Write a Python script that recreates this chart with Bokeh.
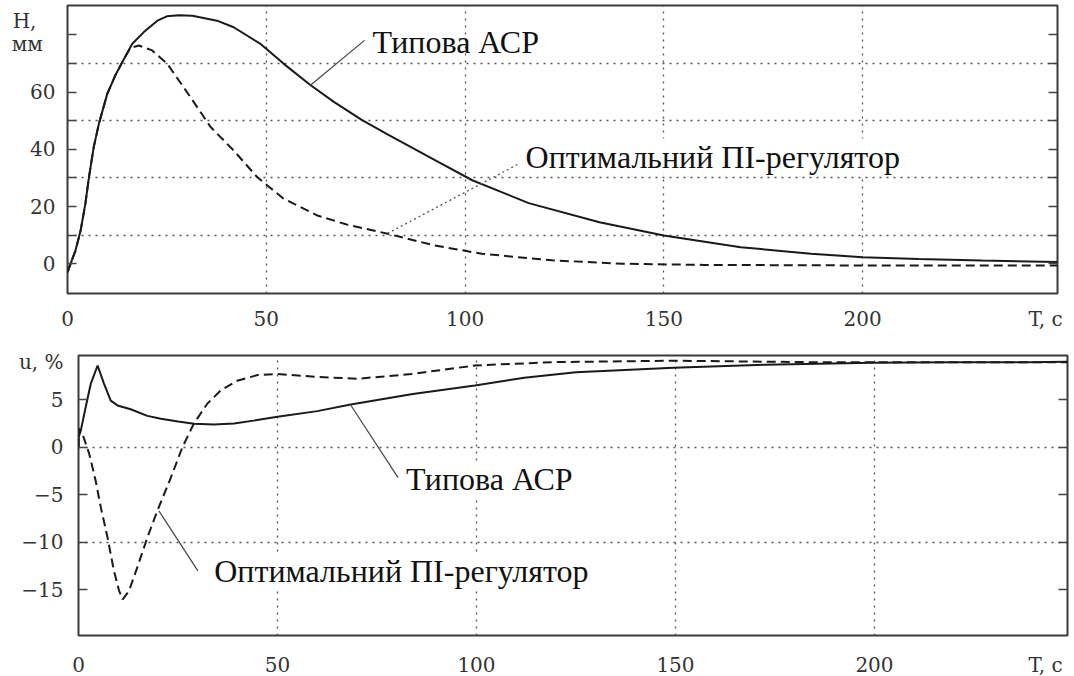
from bokeh.plotting import figure
from bokeh.models import Range1d, FixedTicker, LinearAxis, Label
from bokeh.layouts import column
from bokeh.embed import file_html
from bokeh.resources import INLINE

# ---------------- data: level H, mm ----------------
t_h_typ = [0, 2, 3.3, 4.5, 5.4, 6.6, 7.9, 10, 12, 14, 16.3, 19.2, 22.6, 25, 28, 31.4,
           37.6, 41.8, 48.5, 54.4, 61, 67, 74, 80.5, 92.3, 101.8, 116, 133.8, 150,
           169.3, 187, 200, 214, 230, 249]
h_typ = [-2.9, 4.6, 11.6, 21, 30.3, 40.8, 49, 59.4, 65.8, 71.1, 76.9, 81, 85, 86.5, 86.9, 86.7,
         85, 82.7, 76.9, 69.9, 62.6, 56.6, 50.3, 45.2, 36.3, 29.2, 21.2, 14.5, 9.9,
         5.8, 3.5, 2.3, 1.7, 1.1, 0.6]

t_h_opt = [0, 2, 3.3, 4.5, 5.4, 6.6, 7.9, 10, 12, 14, 15.8, 18, 21.3, 25.1, 30.9, 36, 41.8,
           47.7, 54.4, 62.8, 70, 80.5, 92.3, 104.2, 121.9, 139.7, 160, 200, 249]
h_opt = [-2.9, 4.6, 11.6, 21, 30.3, 40.8, 49, 59.4, 65.8, 71.1, 75.5, 76.3, 74.6, 69.9, 58.3, 47.8, 39.6,
         30.3, 22.7, 16.9, 13.8, 10.5, 6.4, 3.5, 1.2, 0, -0.4, -0.6, -0.6]

# ---------------- data: control u, % ----------------
t_u_typ = [0, 0.01, 0.6, 1.8, 3.1, 4.8, 6.4, 8.1, 9.8, 13.1, 17.3, 20.7, 25, 29, 34, 39.1,
           44, 50, 60, 68.4, 84, 99.6, 112, 125, 149.5, 172.3, 199.5, 220, 238.5, 248.5]
u_typ = [0, 1.0, 1.8, 4.2, 6.7, 8.6, 6.7, 4.9, 4.4, 4.0, 3.3, 3.0, 2.7, 2.46, 2.4, 2.5,
         2.8, 3.2, 3.8, 4.5, 5.6, 6.5, 7.3, 7.9, 8.36, 8.67, 8.88, 8.93, 8.95, 9.0]

t_u_opt = [0, 0.01, 1, 2.7, 4.3, 5.6, 7.3, 8.9, 10.2, 11.1, 12.7, 14.8, 17.3, 19.8, 23.2, 26.1,
           29, 32.4, 35.8, 39.9, 45, 50, 60, 70, 83.6, 99.6, 119.1, 149.5, 184, 220, 248.5]
u_opt = [0, 2.0, 1.4, -0.7, -3.5, -6.3, -9.5, -13, -15.1, -16, -15.1, -12.6, -9.5, -6.7, -3.2, 0,
         2.5, 4.6, 6.0, 7.0, 7.6, 7.7, 7.4, 7.2, 7.7, 8.6, 8.95, 9.1, 8.95, 8.95, 8.95]

# ---------------- ticks / axis texts ----------------
h_mark_ticks = [0, 10, 20, 30, 40, 50, 60, 70, 80]
h_label_ticks = [0, 20, 40, 60]
h_grid = [10, 30, 50, 70]
u_mark_ticks = [-20, -15, -10, -5, 0, 5]
u_label_ticks = [-20, -15, -10, -5, 0, 5]
u_grid = [-10, 0]
t_ticks = [0, 50, 100, 150, 200]
t_grid = [50, 100, 150, 200]

H_NAME = "H,"
H_UNIT = "мм"
U_NAME = "u, %"
T_NAME = "T, c"

NAME_TYP = "Типова АСР"
NAME_OPT = "Оптимальний ПІ-регулятор"

SERIF = "Liberation Serif"
TICK_FONT = "DejaVu Serif"
LINE_C = "#1a1a1a"
NBSP = "\u00a0"


def style(p, mark_ticks, label_ticks, label_extra, ygrid, xticks, xlabel_extra, x_standoff, y_standoff):
    p.outline_line_color = "#3a3a3a"
    p.outline_line_width = 2
    p.background_fill_color = "white"
    p.border_fill_color = "white"
    for ax in p.xaxis:
        ax.ticker = FixedTicker(ticks=xticks + list(xlabel_extra.keys()))
        ax.major_label_overrides = dict(xlabel_extra)
        ax.axis_line_color = None
        ax.major_tick_in = 0
        ax.major_tick_out = 0
        ax.minor_tick_line_color = None
        ax.major_label_text_font = TICK_FONT
        ax.major_label_text_font_size = "20px"
        ax.major_label_text_color = "#333333"
        ax.major_label_standoff = x_standoff
    # default y axis: inward tick marks only
    for ax in p.yaxis:
        ax.ticker = FixedTicker(ticks=mark_ticks)
        ax.major_label_overrides = {v: "" for v in mark_ticks}
        ax.major_label_text_font_size = "1px"
        ax.major_label_standoff = 0
        ax.axis_line_color = None
        ax.major_tick_in = 9
        ax.major_tick_out = 0
        ax.major_tick_line_color = "#444444"
        ax.major_tick_line_width = 1.5
        ax.minor_tick_line_color = None
    # label axis (no marks)
    lax = LinearAxis(ticker=FixedTicker(ticks=label_ticks + list(label_extra.keys())),
                     major_label_overrides=dict(label_extra),
                     axis_line_color=None, major_tick_in=0, major_tick_out=0,
                     minor_tick_line_color=None, major_tick_line_color=None,
                     major_label_text_font=TICK_FONT, major_label_text_font_size="20px",
                     major_label_text_color="#333333", major_label_standoff=y_standoff)
    p.add_layout(lax, "left")
    p.xgrid[0].ticker = FixedTicker(ticks=t_grid)
    p.ygrid[0].ticker = FixedTicker(ticks=ygrid)
    for g in (p.xgrid[0], p.ygrid[0]):
        g.grid_line_color = "#555555"
        g.grid_line_dash = "2 5"
        g.grid_line_width = 1.3
    rax = LinearAxis(ticker=FixedTicker(ticks=mark_ticks),
                     major_label_overrides={v: "" for v in mark_ticks},
                     major_label_standoff=0, major_label_text_font_size="1px",
                     axis_line_color=None, major_tick_in=9, major_tick_out=0,
                     major_tick_line_color="#444444", major_tick_line_width=1.5,
                     minor_tick_line_color=None)
    p.add_layout(rax, "right")


# ---------------- top figure ----------------
p1 = figure(frame_width=990, frame_height=288,
            x_range=Range1d(0, 249), y_range=Range1d(-10.4, 90.3),
            output_backend="svg", toolbar_location=None,
            min_border_left=67, min_border_right=17, min_border_top=5, min_border_bottom=45)
p1.frame_align = False
style(p1, h_mark_ticks, h_label_ticks,
      {85: H_NAME + NBSP * 3, 77: H_UNIT + NBSP * 2},
      h_grid, t_ticks, {246: T_NAME}, 13, 12)

p1.line(t_h_typ, h_typ, line_color=LINE_C, line_width=2)
p1.line(t_h_opt, h_opt, line_color=LINE_C, line_width=2, line_dash="9 5")

# annotation leaders (anchor positions)
p1.line([61.1, 74.7], [62.4, 78.1], line_color="#444444", line_width=1.2)
p1.line([80.5, 113.7], [10.6, 35.1], line_color="#555555", line_width=1.3, line_dash="2 3")

p1.add_layout(Label(x=76.7, y=77.4, text=NAME_TYP, text_font=SERIF, text_font_size="32px",
                    text_color="#111111", text_baseline="alphabetic"))
p1.add_layout(Label(x=115.2, y=37.5, text=NAME_OPT, text_font=SERIF, text_font_size="32px",
                    text_color="#111111", text_baseline="alphabetic",
                    background_fill_color="white", background_fill_alpha=1.0))

# ---------------- bottom figure ----------------
p2 = figure(frame_width=989, frame_height=280,
            x_range=Range1d(0, 248.5), y_range=Range1d(-19.8, 9.65),
            output_backend="svg", toolbar_location=None,
            min_border_left=78, min_border_right=7, min_border_top=17, min_border_bottom=41)
p2.frame_align = False
style(p2, u_mark_ticks, u_label_ticks, {9: U_NAME},
      u_grid, t_ticks, {243: T_NAME}, 17, 15)

p2.line(t_u_typ, u_typ, line_color=LINE_C, line_width=2)
p2.line(t_u_opt, u_opt, line_color=LINE_C, line_width=2, line_dash="9 5")

p2.line([68.3, 80.3], [4.5, -3.2], line_color="#444444", line_width=1.2)
p2.line([20.2, 30.0], [-6.7, -13.0], line_color="#444444", line_width=1.2)

p2.add_layout(Label(x=82.3, y=-3.37, text=NAME_TYP, text_font=SERIF, text_font_size="32px",
                    text_color="#111111", text_baseline="alphabetic",
                    background_fill_color="white", background_fill_alpha=1.0))
p2.add_layout(Label(x=34.1, y=-13.0, text=NAME_OPT, text_font=SERIF, text_font_size="32px",
                    text_color="#111111", text_baseline="alphabetic",
                    background_fill_color="white", background_fill_alpha=1.0))

layout = column(p1, p2, spacing=0)
open("out.html", "w").write(file_html(layout, INLINE))
